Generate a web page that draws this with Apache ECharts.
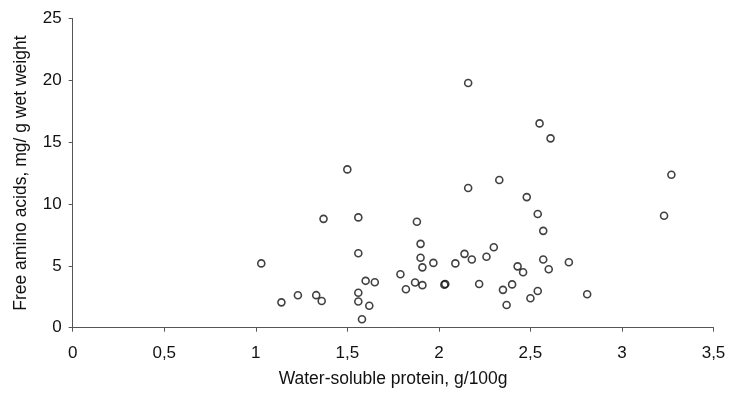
<!DOCTYPE html>
<html>
<head>
<meta charset="utf-8">
<script src="https://cdn.jsdelivr.net/npm/echarts@6/dist/echarts.min.js"></script>
<style>html,body{margin:0;padding:0;background:#fff}#c{width:730px;height:401px}</style>
</head>
<body>
<div id="c"></div>
<script>
// Water-soluble protein, g/100g
const proteinX = [1.03,1.14,1.23,1.33,1.36,1.37,1.50,1.56,1.56,1.56,1.56,1.58,1.60,1.62,1.65,1.79,1.82,1.87,1.88,1.90,1.90,1.91,1.91,1.97,2.03,2.035,2.09,2.14,2.16,2.16,2.18,2.22,2.26,2.30,2.33,2.35,2.37,2.40,2.43,2.46,2.48,2.50,2.54,2.54,2.55,2.57,2.57,2.60,2.61,2.71,2.81,3.23,3.27];
// Free amino acids, mg/g wet weight
const aminoY = [5.2,2.05,2.62,2.63,2.16,8.8,12.8,8.92,6.02,2.83,2.12,0.68,3.79,1.78,3.68,4.32,3.11,3.66,8.57,6.78,5.66,4.88,3.44,5.24,3.48,3.53,5.2,5.97,19.78,11.3,5.52,3.53,5.74,6.51,11.94,3.06,1.84,3.5,4.96,4.48,10.56,2.38,2.97,9.19,16.52,7.83,5.52,4.72,15.31,5.29,2.70,9.05,12.37];
const xName = 'Water-soluble protein, g/100g';
const yName = 'Free amino acids, mg/ g wet weight';

const points = proteinX.map((x, i) => [x, aminoY[i]]);
const font = 'Liberation Sans, Arial, sans-serif';
const chart = echarts.init(document.getElementById('c'), null, {renderer: 'canvas'});
chart.setOption({
  animation: false,
  backgroundColor: '#fff',
  grid: {left: 72.7, right: 16.5, top: 18.5, bottom: 73.3},
  xAxis: {
    type: 'value', min: 0, max: 3.5, interval: 0.5,
    name: xName, nameLocation: 'middle', nameGap: 42,
    nameTextStyle: {fontFamily: font, fontSize: 17.5, color: '#111'},
    axisLine: {show: true, lineStyle: {color: '#555', width: 1}},
    axisTick: {show: true, length: 4, lineStyle: {color: '#555'}},
    axisLabel: {margin: 17, fontFamily: font, fontSize: 17, color: '#111',
      formatter: v => String(v).replace('.', ',')},
    splitLine: {show: false}
  },
  yAxis: {
    type: 'value', min: 0, max: 25, interval: 5,
    name: yName, nameLocation: 'middle', nameGap: 43,
    nameTextStyle: {fontFamily: font, fontSize: 17.5, color: '#111'},
    axisLine: {show: true, lineStyle: {color: '#555', width: 1}},
    axisTick: {show: true, length: 4, lineStyle: {color: '#555'}},
    axisLabel: {margin: 11, fontFamily: font, fontSize: 17, color: '#111'},
    splitLine: {show: false}
  },
  series: [{
    type: 'scatter',
    data: points,
    symbol: 'circle',
    symbolSize: 7,
    itemStyle: {color: 'rgba(255,255,255,0)', borderColor: '#111', borderWidth: 1.6}
  }]
});
</script>
</body>
</html>
